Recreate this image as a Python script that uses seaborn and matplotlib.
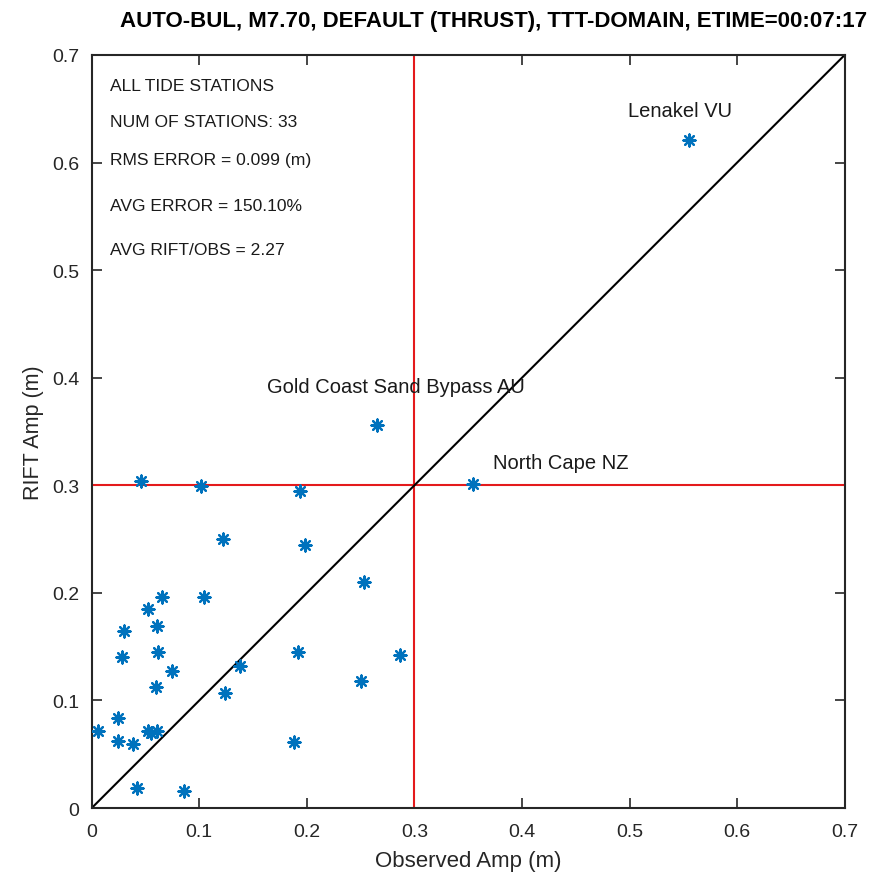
import numpy as np
import pandas as pd
import matplotlib
matplotlib.use("Agg")
import matplotlib.pyplot as plt
import seaborn as sns

# observed vs RIFT amplitude at tide stations (m)
observed = [0.5548, 0.2656, 0.3544,
            0.0457, 0.1016, 0.122, 0.065, 0.104, 0.052, 0.061, 0.030, 0.0285,
            0.0615, 0.0746, 0.1376, 0.0593, 0.1236, 0.0242, 0.0056, 0.052,
            0.055, 0.0606, 0.0242, 0.0388, 0.0425, 0.086,
            0.1935, 0.1985, 0.2531, 0.192, 0.2864, 0.25, 0.188]
rift = [0.621, 0.3556, 0.3008,
        0.304, 0.299, 0.250, 0.196, 0.196, 0.185, 0.169, 0.165, 0.140,
        0.1455, 0.1275, 0.132, 0.1126, 0.1065, 0.0833, 0.0718, 0.0718,
        0.070, 0.0718, 0.062, 0.0594, 0.0186, 0.016,
        0.2946, 0.2445, 0.210, 0.1455, 0.142, 0.118, 0.0616]

stats_lines = ["ALL TIDE STATIONS", "NUM OF STATIONS: 33", "RMS ERROR = 0.099 (m)",
               "AVG ERROR = 150.10%", "AVG RIFT/OBS = 2.27"]
stats_y = [0.672, 0.638, 0.603, 0.560, 0.519]

station_names = ["Lenakel VU", "Gold Coast Sand Bypass AU", "North Cape NZ"]
name_pos = [(0.547, 0.648, "center"), (0.163, 0.392, "left"), (0.373, 0.321, "left")]

df = pd.DataFrame({"observed": observed, "rift": rift})

sns.set_style("white")
plt.rcParams["font.family"] = ["Liberation Sans", "DejaVu Sans"]

fig = plt.figure(figsize=(8.71, 8.79), dpi=100)
ax = fig.add_axes([0.1053, 0.0796, 0.8645, 0.8567])

ax.plot([0, 0.7], [0, 0.7], color="black", lw=1.5, zorder=2)
ax.axvline(0.3, color="#e41a1c", lw=1.5, zorder=1)
ax.axhline(0.3, color="#e41a1c", lw=1.5, zorder=1)

sns.scatterplot(data=df, x="observed", y="rift", marker=(8, 2, 0), s=75,
                color="#0072BD", linewidth=1.6, ax=ax, zorder=3)

for txt, yy in zip(stats_lines, stats_y):
    ax.text(0.017, yy, txt, fontsize=12.6, va="center", ha="left", color="#1a1a1a")

for name, (xx, yy, ha) in zip(station_names, name_pos):
    ax.text(xx, yy, name, fontsize=14.5, va="center", ha=ha, color="#1a1a1a")

ax.set_xlim(0, 0.7)
ax.set_ylim(0, 0.7)
ticks = [0, 0.1, 0.2, 0.3, 0.4, 0.5, 0.6, 0.7]
ax.set_xticks(ticks)
ax.set_yticks(ticks)
ax.set_xticklabels(["0", "0.1", "0.2", "0.3", "0.4", "0.5", "0.6", "0.7"])
ax.set_yticklabels(["0", "0.1", "0.2", "0.3", "0.4", "0.5", "0.6", "0.7"])
ax.tick_params(direction="in", length=7, width=1.2, top=True, right=True,
               bottom=True, left=True, labelsize=14, colors="#262626")
ax.tick_params(axis="x", pad=11)
ax.tick_params(axis="y", pad=9)
for sp in ax.spines.values():
    sp.set_linewidth(1.5)
    sp.set_color("#262626")

ax.set_xlabel("Observed Amp (m)", fontsize=16, color="#262626", labelpad=7)
ax.set_ylabel("RIFT Amp (m)", fontsize=15.5, color="#262626", labelpad=6)
ax.set_title("AUTO-BUL, M7.70, DEFAULT (THRUST), TTT-DOMAIN, ETIME=00:07:17",
             fontsize=16, fontweight="bold", color="black", pad=21, x=0.534)

fig.savefig("out.png", dpi=100)
